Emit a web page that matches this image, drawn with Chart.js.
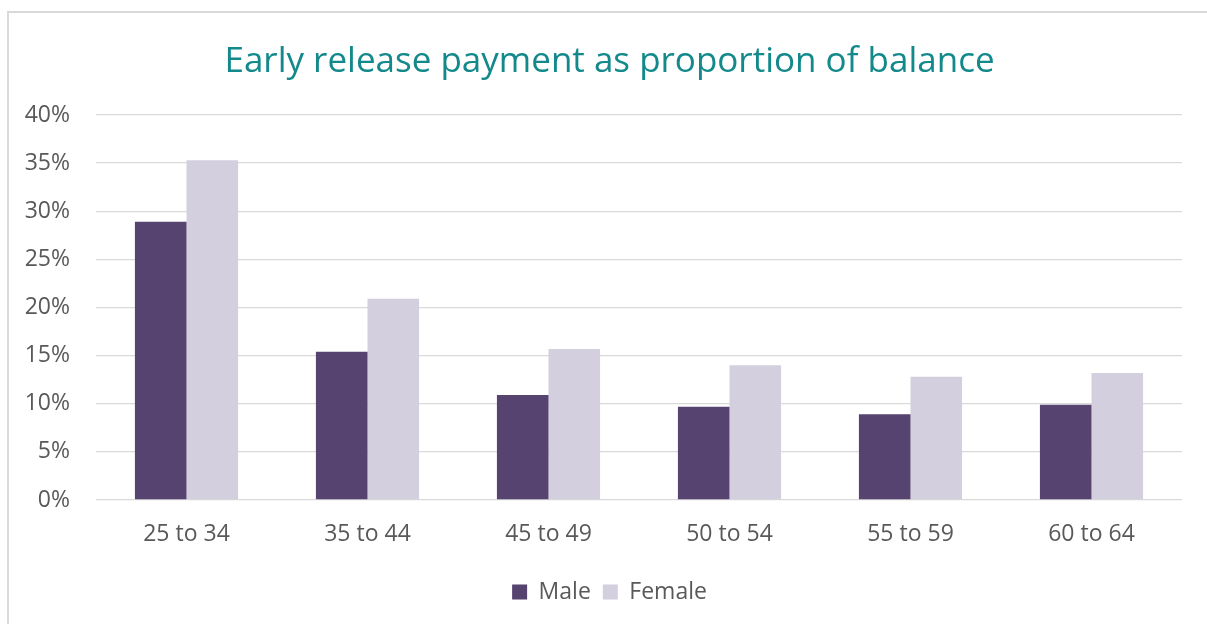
<!DOCTYPE html>
<html>
<head>
<meta charset="utf-8">
<script src="https://cdn.jsdelivr.net/npm/chart.js@4"></script>
<style>
  body { margin: 0; background: #fff; }
  #frame { position: absolute; left: 7px; top: 11px; width: 1220px; height: 640px;
           border-left: 2px solid #d9d9d9; border-top: 2px solid #d9d9d9; }
  #wrap { position: absolute; left: 0; top: 0; width: 1207px; height: 624px; }
</style>
</head>
<body>
<div id="frame"></div>
<div id="wrap"><canvas id="myChart" width="1207" height="624"></canvas></div>
<script>
'use strict';

// ****Data****
let ageGroups = ['25 to 34', '35 to 44', '45 to 49', '50 to 54', '55 to 59', '60 to 64'];
let maleValues = [28.9, 15.4, 10.9, 9.7, 8.9, 9.9];
let femaleValues = [35.3, 20.9, 15.7, 14.0, 12.8, 13.2];
let yTicks = [0, 5, 10, 15, 20, 25, 30, 35, 40];

const textGray = '#595959';
const fontName = '"Open Sans", "Noto Sans", sans-serif';

const ctx = document.getElementById('myChart').getContext('2d');

let myChartObj = {
  type: 'bar',
  data: {
    labels: ageGroups,
    datasets: [{
      label: 'Male',
      data: maleValues,
      backgroundColor: '#56436f'
    },
    {
      label: 'Female',
      data: femaleValues,
      backgroundColor: '#d4cfde'
    }]
  },
  options: {
    responsive: false,
    animation: false,
    categoryPercentage: 0.57,
    barPercentage: 1.0,
    layout: { padding: { left: 12, right: 0, top: 0, bottom: 10.5 } },
    plugins: {
      title: {
        display: true,
        text: 'Early release payment as proportion of balance',
        color: '#13898b',
        font: { family: fontName, size: 35, weight: 'normal', lineHeight: 1.2 },
        padding: { top: 41, bottom: 32 }
      },
      legend: {
        position: 'bottom',
        labels: {
          color: textGray,
          font: { family: fontName, size: 23 },
          boxWidth: 15,
          boxHeight: 15,
          padding: 12
        }
      },
      tooltip: { enabled: false }
    },
    scales: {
      x: {
        grid: { display: false, drawTicks: false },
        border: { display: false },
        ticks: { color: textGray, font: { family: fontName, size: 23 }, padding: 21 },
        afterFit: function(scale) { scale.height = 68.5; }
      },
      y: {
        min: 0,
        max: 40,
        afterBuildTicks: function(scale) {
          scale.ticks = yTicks.map(function(v) { return { value: v }; });
        },
        grid: { color: '#d9d9d9', lineWidth: 1.3, drawTicks: false },
        border: { display: false },
        ticks: {
          color: textGray,
          font: { family: fontName, size: 23 },
          padding: 26,
          callback: function(v) { return v + '%'; }
        },
        afterFit: function(scale) { scale.width = 84; }
      },
      // empty axis on the right, only keeps the gap after the plot
      yRight: {
        position: 'right',
        display: true,
        grid: { display: false, drawTicks: false },
        border: { display: false },
        ticks: { display: false },
        afterFit: function(scale) { scale.width = 25; }
      }
    }
  }
};

const myChart = new Chart(ctx, myChartObj);
</script>
</body>
</html>
